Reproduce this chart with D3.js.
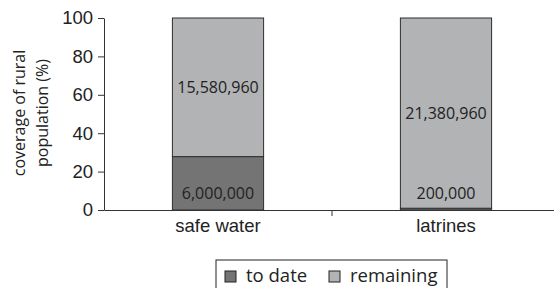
<!DOCTYPE html>
<html>
<head>
<meta charset="utf-8">
<script src="https://cdn.jsdelivr.net/npm/d3@7"></script>
<style>
  body { margin: 0; background: #fff; }
  svg { font-family: "Open Sans", sans-serif; }
</style>
</head>
<body>
<svg id="chart" width="554" height="288"></svg>
<script>
// chart data
const categories = ['safe water', 'latrines'];
const toDate = [6000000, 200000];
const remaining = [15580960, 21380960];
const seriesNames = ['to date', 'remaining'];
const yTicks = [0, 20, 40, 60, 80, 100];

const colors = { 'to date': '#747474', 'remaining': '#b1b3b5' };

const margin = { left: 104, top: 18, right: -6, bottom: 78 };
const width = 554 - margin.left - margin.right;
const height = 288 - margin.top - margin.bottom;

const svg = d3.select('#chart');
const g = svg.append('g').attr('transform', `translate(${margin.left},${margin.top})`);

const x = d3.scaleBand().domain(categories).range([0, width]).paddingInner(0).paddingOuter(0);
const y = d3.scaleLinear().domain([0, 100]).range([height, 0]);

const rows = categories.map((c, i) => {
  const total = toDate[i] + remaining[i];
  return { cat: c, 'to date': toDate[i] / total * 100, 'remaining': remaining[i] / total * 100,
    raw: { 'to date': toDate[i], 'remaining': remaining[i] } };
});

const stack = d3.stack().keys(seriesNames)(rows);
const barW = x.bandwidth() * 0.4;
const fmt = d3.format(',');

stack.forEach(layer => {
  g.selectAll(null)
    .data(layer)
    .enter().append('rect')
    .attr('x', d => x(d.data.cat) + (x.bandwidth() - barW) / 2)
    .attr('y', d => y(d[1]))
    .attr('width', barW)
    .attr('height', d => y(d[0]) - y(d[1]))
    .style('fill', colors[layer.key])
    .style('stroke', '#2e2e2e')
    .style('stroke-width', 1);
});

// value labels
stack.forEach(layer => {
  g.selectAll(null)
    .data(layer)
    .enter().append('text')
    .attr('x', d => x(d.data.cat) + x.bandwidth() / 2)
    .attr('y', d => layer.key == 'to date' ? y(0) - 17 : (y(d[0]) + y(d[1])) / 2)
    .attr('dy', '0.35em')
    .attr('text-anchor', 'middle')
    .style('font-size', '16px')
    .style('fill', '#222')
    .text(d => fmt(d.data.raw[layer.key]));
});

// axes
const yAxis = d3.axisLeft(y).tickValues(yTicks).tickSize(6).tickSizeOuter(0);
const yg = g.append('g').attr('class', 'y axis').call(yAxis);
yg.selectAll('text').style('font-size', '18.5px').style('fill', '#222').attr('x', -11);
yg.selectAll('line, path').style('stroke', '#333');

const xAxis = d3.axisBottom(x).tickSize(0).tickSizeOuter(0);
const xg = g.append('g').attr('class', 'x axis').attr('transform', `translate(0,${height})`).call(xAxis);
xg.select('path').style('stroke', '#333');
xg.selectAll('text').style('font-size', '18.5px').style('fill', '#222').attr('dy', '1.05em');

// category separators
g.selectAll(null)
  .data(categories.slice(1))
  .enter().append('line')
  .attr('x1', d => x(d)).attr('x2', d => x(d))
  .attr('y1', height).attr('y2', height + 6)
  .style('stroke', '#333');

// y axis title
const title = g.append('text')
  .attr('transform', `translate(${-79},${height / 2 - 1}) rotate(-90)`)
  .attr('text-anchor', 'middle')
  .style('font-size', '16px')
  .style('fill', '#222');
title.append('tspan').attr('x', 0).attr('dy', '0').text('coverage of rural');
title.append('tspan').attr('x', 0).attr('dy', '1.45em').text('population (%)');

// legend
const legend = svg.append('g').attr('transform', 'translate(216,260)');
legend.append('rect')
  .attr('width', 231).attr('height', 30)
  .style('fill', 'none').style('stroke', '#222').style('stroke-width', 1);
const legendX = [9, 113];
seriesNames.forEach((name, i) => {
  const item = legend.append('g').attr('transform', `translate(${legendX[i]},6)`);
  item.append('rect').attr('width', 11).attr('height', 11).attr('y', 5)
    .style('fill', colors[name]).style('stroke', '#222');
  item.append('text').attr('x', 21).attr('y', 16)
    .style('font-size', '18.5px').style('fill', '#222').text(name);
});
</script>
</body>
</html>
